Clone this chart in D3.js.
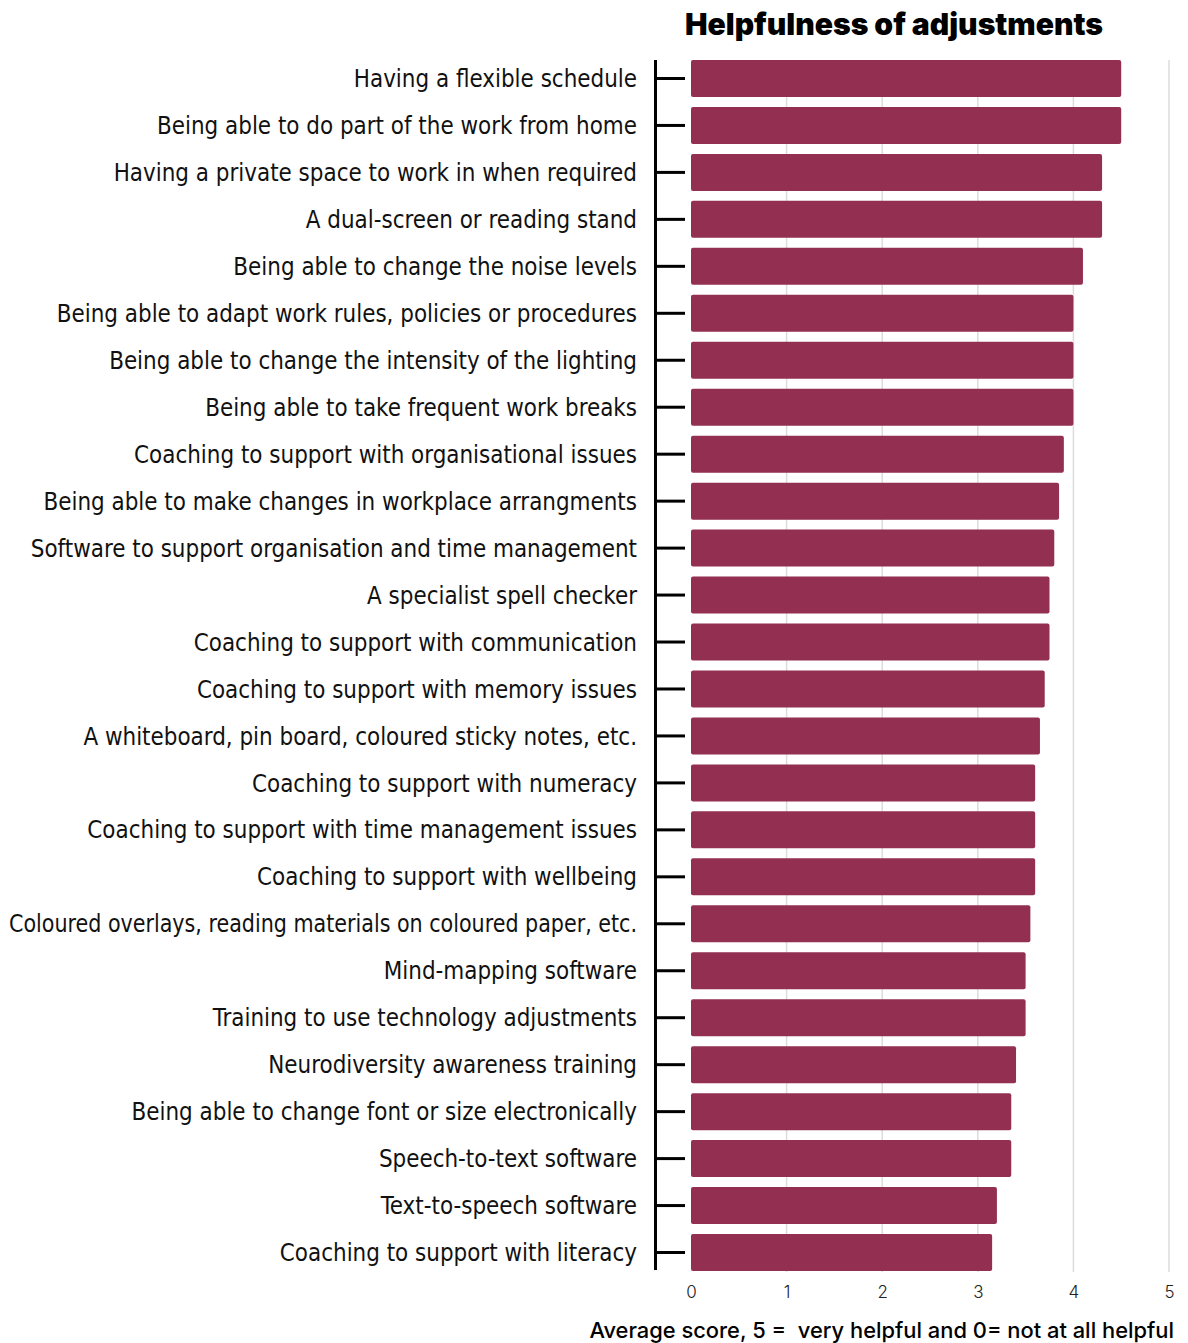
<!DOCTYPE html>
<html>
<head>
<meta charset="utf-8">
<script src="https://cdn.jsdelivr.net/npm/d3@7/dist/d3.min.js"></script>
<style>
  html, body { margin: 0; padding: 0; background: #fff; }
  svg { display: block; }
</style>
</head>
<body>
<svg id="chart" width="1188" height="1343"></svg>
<script>
const categories = [
  "Having a flexible schedule",
  "Being able to do part of the work from home",
  "Having a private space to work in when required",
  "A dual-screen or reading stand",
  "Being able to change the noise levels",
  "Being able to adapt work rules, policies or procedures",
  "Being able to change the intensity of the lighting",
  "Being able to take frequent work breaks",
  "Coaching to support with organisational issues",
  "Being able to make changes in workplace arrangments",
  "Software to support organisation and time management",
  "A specialist spell checker",
  "Coaching to support with communication",
  "Coaching to support with memory issues",
  "A whiteboard, pin board, coloured sticky notes, etc.",
  "Coaching to support with numeracy",
  "Coaching to support with time management issues",
  "Coaching to support with wellbeing",
  "Coloured overlays, reading materials on coloured paper, etc.",
  "Mind-mapping software",
  "Training to use technology adjustments",
  "Neurodiversity awareness training",
  "Being able to change font or size electronically",
  "Speech-to-text software",
  "Text-to-speech software",
  "Coaching to support with literacy"
];
const scores = [4.5, 4.5, 4.3, 4.3, 4.1, 4.0, 4.0, 4.0, 3.9, 3.85, 3.8, 3.75, 3.75, 3.7, 3.65, 3.6, 3.6, 3.6, 3.55, 3.5, 3.5, 3.4, 3.35, 3.35, 3.2, 3.15];
const xTicks = [0, 1, 2, 3, 4, 5];
const titleText = "Helpfulness of adjustments";
const xAxisTitle = "Average score, 5 =  very helpful and 0= not at all helpful";

const data = categories.map((c, i) => ({ label: c, value: scores[i] }));

const svg = d3.select("#chart");
const barColor = "#932f50";

const x = d3.scaleLinear().domain([0, 5]).range([691, 1169]);
const y = d3.scaleBand().domain(categories).range([55, 1276]).paddingInner(0.212).paddingOuter(0.106);

function fitText(sel, target) {
  const node = sel.node();
  let fs = parseFloat(sel.attr("font-size"));
  const w = node.getComputedTextLength();
  if (w > 0) sel.attr("font-size", (fs * target / w).toFixed(2));
}

// gridlines
svg.append("g")
  .selectAll("line")
  .data(xTicks.filter(d => d > 0))
  .join("line")
  .attr("x1", d => x(d)).attr("x2", d => x(d))
  .attr("y1", 60).attr("y2", 1272)
  .attr("stroke", "#dcdcdc")
  .attr("stroke-width", 1.5);

// bars
svg.append("g")
  .selectAll("rect")
  .data(data)
  .join("rect")
  .attr("x", x(0))
  .attr("y", d => y(d.label))
  .attr("width", d => x(d.value) - x(0))
  .attr("height", y.bandwidth())
  .attr("rx", 2)
  .attr("fill", barColor);

// y axis
const yAxis = d3.axisLeft(y).tickSize(30).tickPadding(18);
const yg = svg.append("g").attr("transform", "translate(685,0)").call(yAxis);
yg.attr("font-family", null).attr("font-size", null);
yg.select(".domain").remove();
yg.selectAll(".tick line").attr("stroke", "#000").attr("stroke-width", 3);
const labelRoom = 628;
yg.selectAll(".tick text")
  .attr("font-family", "'DejaVu Sans Condensed', 'DejaVu Sans', sans-serif")
  .attr("font-size", 23.9)
  .attr("fill", "#111")
  .attr("dy", "0.36em")
  .each(function () {
    // squeeze any label that would run past the left edge of the canvas
    if (this.getComputedTextLength() > labelRoom) {
      d3.select(this).attr("textLength", labelRoom).attr("lengthAdjust", "spacingAndGlyphs");
    }
  });

svg.append("line")
  .attr("x1", 655.5).attr("x2", 655.5)
  .attr("y1", 60).attr("y2", 1270)
  .attr("stroke", "#000").attr("stroke-width", 3);

// x axis labels
const xAxis = d3.axisBottom(x).tickValues(xTicks).tickSize(0).tickPadding(0).tickFormat(d3.format("d"));
const xg = svg.append("g").attr("transform", "translate(0,1298)").call(xAxis);
xg.select(".domain").remove();
xg.selectAll(".tick text")
  .attr("font-family", "Inter, 'Noto Sans', sans-serif")
  .attr("font-weight", 300)
  .attr("font-size", 17)
  .attr("fill", "#222")
  .attr("dy", 0);

// title
const t = svg.append("text")
  .attr("x", 894).attr("y", 35)
  .attr("text-anchor", "middle")
  .attr("font-family", "Inter, Roboto, sans-serif")
  .attr("font-weight", 900)
  .attr("font-size", 30)
  .attr("fill", "#000")
  .text(titleText);
fitText(t, 418);

// x axis title
const xt = svg.append("text")
  .attr("x", 1174).attr("y", 1338)
  .attr("text-anchor", "end")
  .attr("font-family", "Inter, 'Noto Sans', sans-serif")
  .attr("font-weight", 500)
  .attr("font-size", 21)
  .attr("fill", "#000")
  .style("white-space", "pre")
  .attr("xml:space", "preserve")
  .text(xAxisTitle);
fitText(xt, 585);
</script>
</body>
</html>
